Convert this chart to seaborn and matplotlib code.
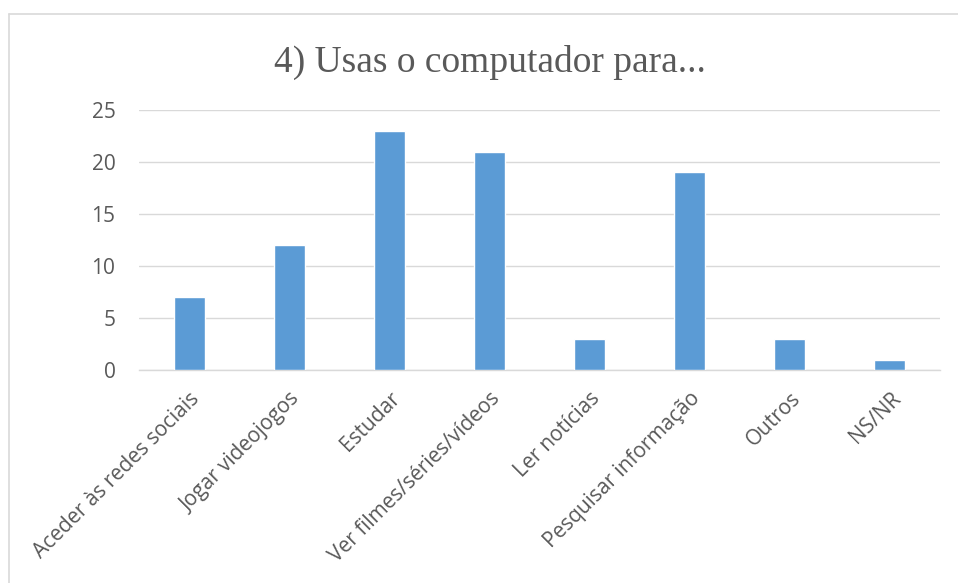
import matplotlib
matplotlib.use("Agg")
import matplotlib.pyplot as plt
from matplotlib.lines import Line2D
import seaborn as sns
import pandas as pd

categories = [
    "Aceder às redes sociais",
    "Jogar videojogos",
    "Estudar",
    "Ver filmes/séries/vídeos",
    "Ler notícias",
    "Pesquisar informação",
    "Outros",
    "NS/NR",
]
values = [7, 12, 23, 21, 3, 19, 3, 1]
yticks = [0, 5, 10, 15, 20, 25]
title = "4) Usas o computador para..."

df = pd.DataFrame({"categoria": categories, "n": values})

sns.set_theme(style="white")
plt.rcParams["font.family"] = ["Open Sans", "DejaVu Sans"]

W, H = 958, 583
fig = plt.figure(figsize=(W / 100, H / 100), dpi=100)
fig.patch.set_facecolor("white")

ax = fig.add_axes([139 / W, 1 - 370 / H, (940 - 139) / W, (370 - 110) / H])
sns.barplot(data=df, x="categoria", y="n", color="#5B9BD5", saturation=1,
            width=0.31, ax=ax, zorder=3)

ax.set_ylim(0, 25)
ax.set_yticks(yticks)
ax.set_xlim(-0.5, len(categories) - 0.5)
ax.yaxis.grid(True, color="#D9D9D9", linewidth=1.0, zorder=0)
ax.xaxis.grid(False)
for s in ["top", "right", "left"]:
    ax.spines[s].set_visible(False)
ax.spines["bottom"].set_color("#D9D9D9")
ax.spines["bottom"].set_linewidth(1.0)
ax.set_xlabel("")
ax.set_ylabel("")
ax.tick_params(axis="both", length=0, colors="#595959", labelsize=15)
ax.tick_params(axis="y", pad=17)
ax.tick_params(axis="x", pad=13)
plt.setp(ax.get_xticklabels(), rotation=45, ha="right", rotation_mode="anchor")
plt.setp(ax.get_yticklabels(), ha="right")

fig.text(490 / W, 1 - 62 / H, title, ha="center", va="center",
         fontsize=27, color="#595959", family=["Liberation Serif", "DejaVu Serif"])

# chart frame
fig.add_artist(Line2D([8.5 / W, 1.0], [1 - 13.5 / H] * 2, color="#D9D9D9",
                      linewidth=1.2, transform=fig.transFigure))
fig.add_artist(Line2D([8.5 / W] * 2, [0, 1 - 13.5 / H], color="#D9D9D9",
                      linewidth=1.2, transform=fig.transFigure))

fig.savefig("out.png", dpi=100, facecolor="white")
